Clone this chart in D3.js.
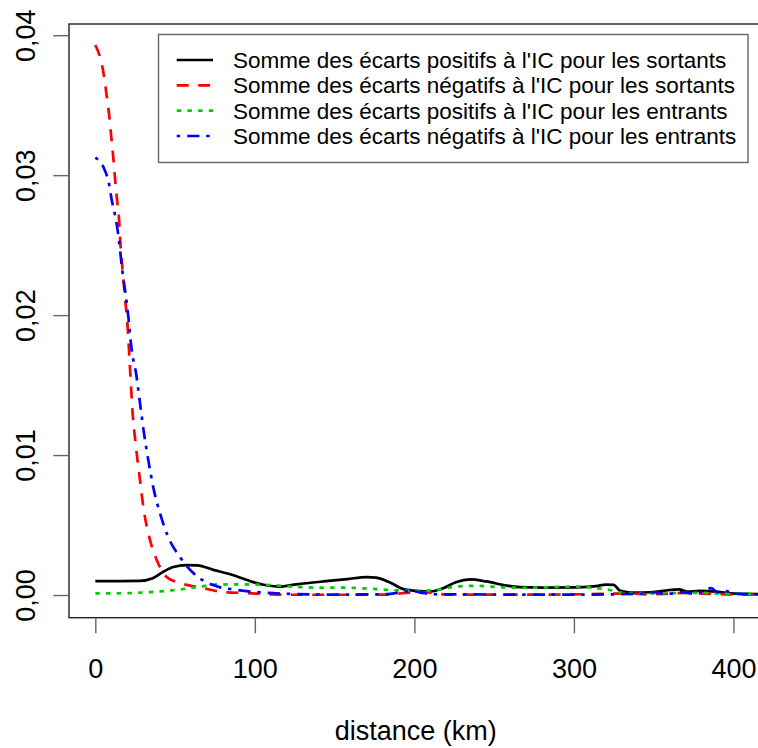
<!DOCTYPE html>
<html>
<head>
<meta charset="utf-8">
<script src="https://cdn.jsdelivr.net/npm/d3@7"></script>
<style>
  body { margin: 0; background: #fff; }
  svg { display: block; font-family: "Liberation Sans", Arial, sans-serif; }
</style>
</head>
<body>
<svg id="chart" width="758" height="748"></svg>
<script>
// distance (km), value pairs
const sortantsPositifs = [
  [0, 0.00100], [15, 0.00100], [28, 0.00101], [36, 0.00120], [42.6, 0.00166], [48.9, 0.00200],
  [57, 0.00214], [64, 0.00212], [74, 0.00180], [86, 0.00143], [99, 0.00092], [108, 0.00068],
  [115, 0.00060], [126, 0.00076], [143, 0.00097], [158, 0.00114], [170, 0.00128], [176, 0.00124],
  [185, 0.00088], [193, 0.00042], [201, 0.00030], [210, 0.00025], [218, 0.00048], [226, 0.00092],
  [235, 0.00112], [245, 0.00097], [258, 0.00067], [266, 0.00056], [281, 0.00053], [302, 0.00055],
  [314, 0.00063], [320, 0.00075], [325, 0.00072], [329, 0.00030], [337, 0.00017], [348, 0.00020],
  [360, 0.00036], [366, 0.00040], [371, 0.00024], [379, 0.00030], [389, 0.00024], [398, 0.00012],
  [416, 0.00007]
];
const sortantsNegatifs = [
  [0, 0.03930], [5, 0.03738], [7.1, 0.03571], [8.8, 0.03416], [10, 0.03274], [11.3, 0.03121],
  [12.3, 0.02979], [13.6, 0.02825], [14.9, 0.02679], [15.7, 0.02514], [17.2, 0.02307], [18.6, 0.02125],
  [20.1, 0.01943], [21.7, 0.01629], [23.4, 0.01300], [25.5, 0.01057], [28, 0.00821], [30.1, 0.00629],
  [34.3, 0.00393], [38.5, 0.00250], [44.7, 0.00129], [53, 0.00086], [67.5, 0.00050], [80, 0.00021],
  [95, 0.00014], [110, 0.00005], [120, 0.00002], [150, 0.00002], [180, 0.00003], [195, 0.00015],
  [205, 0.00020], [212, 0.00015], [220, 0.00003], [280, 0.00003], [300, 0.00005], [320, 0.00008],
  [335, 0.00012], [345, 0.00005], [360, 0.00010], [370, 0.00015], [380, 0.00010], [395, 0.00005],
  [416, 0.00003]
];
const entrantsPositifs = [
  [0, 0.00012], [20, 0.00013], [32, 0.00020], [45, 0.00030], [53, 0.00040], [65.6, 0.00060],
  [78, 0.00076], [95, 0.00076], [111.5, 0.00070], [124, 0.00060], [143, 0.00052], [155, 0.00053],
  [172, 0.00045], [186, 0.00035], [205.5, 0.00030], [216, 0.00040], [226, 0.00060], [239, 0.00066],
  [255.6, 0.00055], [270, 0.00052], [301.6, 0.00060], [312, 0.00052], [322.5, 0.00036], [331, 0.00016],
  [354, 0.00012], [375, 0.00016], [389, 0.00012], [416, 0.00007]
];
const entrantsNegatifs = [
  [0, 0.03126], [5, 0.03059], [8.6, 0.02936], [10.3, 0.02821], [11.9, 0.02738], [13.8, 0.02621],
  [15.5, 0.02464], [16.9, 0.02321], [18.6, 0.02179], [20.7, 0.01988], [22.8, 0.01750], [25.5, 0.01586],
  [28, 0.01371], [30.5, 0.01157], [33.2, 0.00964], [36.3, 0.00771], [40.5, 0.00586], [45.7, 0.00414],
  [53.1, 0.00271], [61.4, 0.00157], [73.9, 0.00071], [88.8, 0.00036], [107.6, 0.00016], [126.4, 0.00007],
  [150, 0.00003], [180, 0.00005], [192, 0.00020], [198, 0.00030], [205, 0.00015], [215, 0.00005],
  [300, 0.00003], [340, 0.00008], [350, 0.00020], [358, 0.00008], [368, 0.00020], [375, 0.00010],
  [382, 0.00030], [386, 0.00050], [390, 0.00020], [395, 0.00030], [400, 0.00010], [416, 0.00005]
];

const xTicks = [0, 100, 200, 300, 400];
const yTicks = [0, 0.01, 0.02, 0.03, 0.04];
const legendLabels = [
  "Somme des écarts positifs à l'IC pour les sortants",
  "Somme des écarts négatifs à l'IC pour les sortants",
  "Somme des écarts positifs à l'IC pour les entrants",
  "Somme des écarts négatifs à l'IC pour les entrants"
];
const xLabel = "distance (km)";

// Series styling
const series = [
  { data: sortantsPositifs, color: "#000000", dash: null },
  { data: sortantsNegatifs, color: "#ff0000", dash: "12,9.5" },
  { data: entrantsPositifs, color: "#00cd00", dash: "4.5,6.2" },
  { data: entrantsNegatifs, color: "#0000ff", dash: "3.5,7,12.3,6.7" }
];

const svg = d3.select('#chart');
const plot = { left: 69, top: 24, right: 762, bottom: 617.7 };

const x = d3.scaleLinear().domain([-16.5, 417.9]).range([plot.left, plot.right]);
const y = d3.scaleLinear().domain([-0.00162, 0.0408]).range([plot.bottom, plot.top]);

svg.append('defs').append('clipPath').attr('id', 'clip')
  .append('rect')
  .attr('x', plot.left).attr('y', plot.top)
  .attr('width', plot.right - plot.left).attr('height', plot.bottom - plot.top);

// Lines
const line = d3.line()
  .x(d => x(d[0]))
  .y(d => y(d[1]))
  .curve(d3.curveMonotoneX);

const lines = svg.append('g').attr('clip-path', 'url(#clip)');
series.forEach(s => {
  lines.append('path')
    .datum(s.data)
    .attr('fill', 'none')
    .attr('stroke', s.color)
    .attr('stroke-width', 2.7)
    .attr('stroke-dasharray', s.dash)
    .attr('d', line);
});

// Plot box
svg.append('rect')
  .attr('x', plot.left).attr('y', plot.top)
  .attr('width', plot.right - plot.left).attr('height', plot.bottom - plot.top)
  .attr('fill', 'none')
  .attr('stroke', '#222')
  .attr('stroke-width', 1.4);

// X axis
const xAxis = svg.append('g')
  .attr('transform', `translate(0,${plot.bottom})`)
  .call(d3.axisBottom(x).tickValues(xTicks).tickSize(15.5).tickFormat(d3.format('d')));
xAxis.select('.domain').remove();
xAxis.selectAll('line').attr('stroke', '#666').attr('stroke-width', 1.4);
xAxis.selectAll('text')
  .attr('y', 678 - plot.bottom).attr('dy', 0)
  .attr('font-size', 27).attr('fill', '#000')
  .attr('font-family', '"Liberation Sans", Arial, sans-serif');

// Y axis
const yAxis = svg.append('g')
  .attr('transform', `translate(${plot.left},0)`)
  .call(d3.axisLeft(y).tickValues(yTicks).tickSize(15.7)
    .tickFormat(d => d3.format('.2f')(d).replace('.', ',')));
yAxis.select('.domain').remove();
yAxis.selectAll('line').attr('stroke', '#666').attr('stroke-width', 1.4);
yAxis.selectAll('text')
  .attr('transform', 'rotate(-90)')
  .attr('x', 0).attr('y', -34).attr('dy', 0)
  .attr('text-anchor', 'middle')
  .attr('font-size', 27).attr('fill', '#000')
  .attr('font-family', '"Liberation Sans", Arial, sans-serif');

// X label
svg.append('text')
  .attr('x', 415.7).attr('y', 740)
  .attr('text-anchor', 'middle')
  .attr('font-size', 27)
  .text(xLabel);

// Legend
const legend = svg.append('g');
legend.append('rect')
  .attr('x', 158.5).attr('y', 34.5)
  .attr('width', 589.5).attr('height', 128)
  .attr('fill', '#fff')
  .attr('stroke', '#666')
  .attr('stroke-width', 1.4);

const rowY = d3.scaleLinear().domain([0, 3]).range([60, 136]);
legendLabels.forEach((label, i) => {
  const s = series[i];
  legend.append('line')
    .attr('x1', 176.7).attr('x2', 213)
    .attr('y1', rowY(i)).attr('y2', rowY(i))
    .attr('stroke', s.color)
    .attr('stroke-width', 2.7)
    .attr('stroke-dasharray', s.dash);
  legend.append('text')
    .attr('x', 233).attr('y', rowY(i) + 8)
    .attr('font-size', 22.5)
    .text(label);
});
</script>
</body>
</html>
